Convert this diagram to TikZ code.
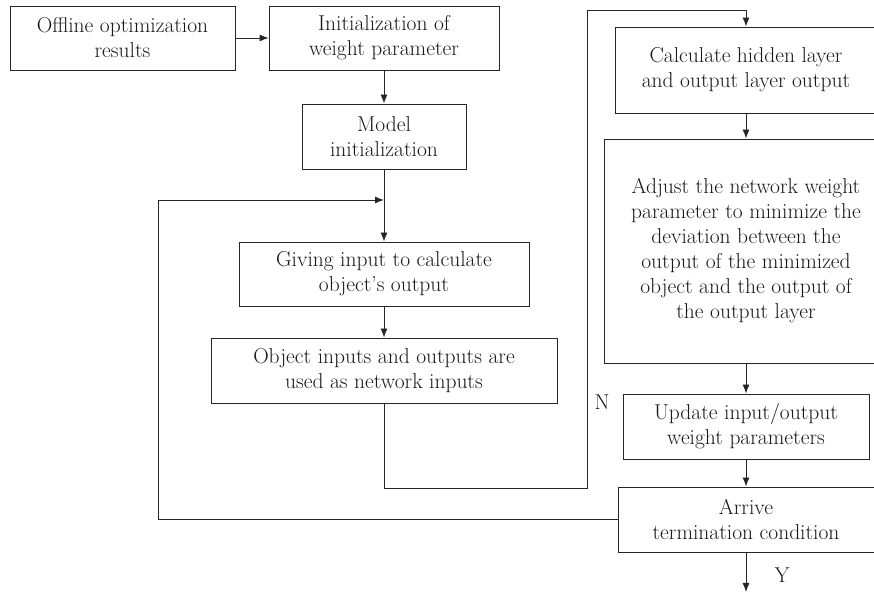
\documentclass[tikz,border=0pt]{standalone}
\usetikzlibrary{arrows.meta}

\tikzset{
  box/.style={draw=black!85, line width=0.9pt, align=center, inner sep=0pt,
    text=black!90, font=\fontsize{21.5}{25}\selectfont},
  lbl/.style={font=\fontsize{21.5}{25}\selectfont, text=black!90, inner sep=0pt},
  flow/.style={draw=black!85, line width=0.9pt, -{Latex[length=9pt,width=7pt]}},
}

\begin{document}
\begin{tikzpicture}[x=1pt, y=1pt]
  % the frame
  \path[clip] (0,0) rectangle (874,593);

  % left column
  \node[box, minimum width=225, minimum height=64] (offline) at (122.5,555)
    {Offline optimization\\results};
  \node[box, minimum width=230, minimum height=64] (initw) at (384,555)
    {Initialization of\\weight parameter};
  \node[box, minimum width=164, minimum height=65] (model) at (384,456.5)
    {Model\\initialization};
  \node[box, minimum width=290, minimum height=64] (giving) at (384,319)
    {Giving input to calculate\\object's output};
  \node[box, minimum width=346, minimum height=65] (objin) at (384,222.5)
    {Object inputs and outputs are\\used as network inputs};

  % right column
  \node[box, minimum width=262, minimum height=86] (calc) at (746,523)
    {Calculate hidden layer\\and output layer output};
  \node[box, minimum width=284, minimum height=224] (adjust) at (746,342)
    {Adjust the network weight\\parameter to minimize the\\deviation between the\\output of the minimized\\object and the output of\\the output layer};
  \node[box, minimum width=246, minimum height=65] (update) at (746,166.5)
    {Update input/output\\weight parameters};
  \node[box, minimum width=256, minimum height=65] (arrive) at (746,73.5)
    {Arrive\\termination condition};

  % labels
  \node[lbl] (no) at (602,191) {N};
  \node[lbl] (yes) at (782,18) {Y};

  % connectors
  \coordinate (join) at (384,393);
  \coordinate (bend) at (587,105);
  \coordinate (top) at (587,583);
  \coordinate (back) at (158,393);
  \coordinate (out) at (746,1);

  \draw[flow] (offline) -- (initw);
  \draw[flow] (initw) -- (model);
  \draw[flow] (model) -- (giving);
  \draw[flow] (giving) -- (objin);
  \draw[flow] (objin.south) |- (bend) -- (top) -| (calc.north);
  \draw[flow] (calc) -- (adjust);
  \draw[flow] (adjust) -- (update);
  \draw[flow] (update) -- (arrive);
  \draw[flow] (arrive) -- (out);
  \draw[flow] (arrive.west) -| (back) -- (join);
\end{tikzpicture}
\end{document}
